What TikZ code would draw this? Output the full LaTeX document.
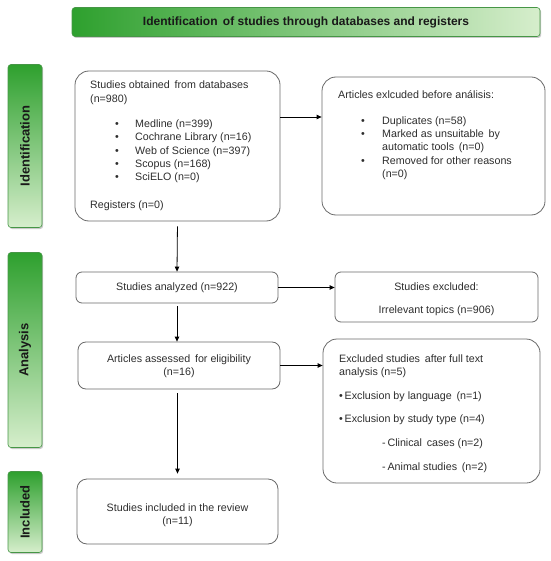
\documentclass[tikz,border=0pt]{standalone}
\usepackage{fontspec}
\setmainfont{Liberation Sans}
\usetikzlibrary{arrows.meta,shadows}
\definecolor{gdark}{RGB}{46,160,46}
\definecolor{glight}{RGB}{214,238,204}
\definecolor{gedge}{RGB}{70,150,70}
\definecolor{boxedge}{RGB}{105,105,105}
\definecolor{tgray}{RGB}{45,45,45}
\begin{document}
\begin{tikzpicture}[x=1pt,y=-1pt,
  box/.style={draw=boxedge, line width=0.8pt, rounded corners=#1, inner sep=0pt},
  box/.default=12pt,
  txt/.style={inner sep=0pt, text=tgray, font=\fontsize{10.7}{13.3}\selectfont},
  banner/.style={draw=gedge, line width=0.6pt, rounded corners=3pt, left color=gdark, right color=glight,
    drop shadow={shadow xshift=1.2pt, shadow yshift=-1.5pt, fill=black!35, opacity=0.6}, inner sep=0pt},
  sidebar/.style={draw=gedge, line width=0.6pt, rounded corners=3pt, top color=gdark, bottom color=glight,
    drop shadow={shadow xshift=1.2pt, shadow yshift=-1.5pt, fill=black!35, opacity=0.6}, inner sep=0pt},
  sidelabel/.style={rotate=90, text=black!90, font=\fontsize{13}{15}\selectfont\bfseries},
  arr/.style={line width=0.8pt, -{Triangle[length=5pt,width=4.5pt]}}
]
\useasboundingbox (0,0) rectangle (550,561);
% banners
\node[banner, minimum width=468pt, minimum height=29pt] (top) at (306,22) {};
\node[inner sep=0pt, text=black!90, font=\fontsize{12}{14}\selectfont\bfseries] (toptxt) at (top.center) {Identification\, of studies through databases and registers};
\node[sidebar, minimum width=34pt, minimum height=163pt] (s1) at (25,146) {};
\node[sidelabel] (s1t) at (s1.center) {Identification};
\node[sidebar, minimum width=34pt, minimum height=195pt] (s2) at (25,350) {};
\node[sidelabel] (s2t) at (s2.center) {Analysis};
\node[sidebar, minimum width=34pt, minimum height=81pt] (s3) at (25,512) {};
\node[sidelabel] (s3t) at (s3.center) {Included};
% boxes
\node[box=14pt, minimum width=205pt, minimum height=150pt] (b1) at (177.5,146) {};
\node[box=14pt, minimum width=223pt, minimum height=138pt] (b2) at (433.5,146) {};
\node[box=6pt, minimum width=202pt, minimum height=31pt] (b3) at (177,287.5) {};
\node[box=6pt, minimum width=203pt, minimum height=50pt] (b4) at (436.5,297) {};
\node[box=8pt, minimum width=202pt, minimum height=47pt] (b5) at (179,365.5) {};
\node[box=14pt, minimum width=217pt, minimum height=144pt] (b6) at (431.5,411) {};
\node[box=10pt, minimum width=201pt, minimum height=65pt] (b7) at (177.5,511.5) {};
% texts
\node[txt, anchor=north west, align=left] (t1) at (90,81) {Studies obtained\, from databases\\(n=980)\\[12pt]
\hspace*{25pt}\makebox[20pt][l]{•}Medline (n=399)\\
\hspace*{25pt}\makebox[20pt][l]{•}Cochrane Library (n=16)\\
\hspace*{25pt}\makebox[20pt][l]{•}Web of Science (n=397)\\
\hspace*{25pt}\makebox[20pt][l]{•}Scopus (n=168)\\
\hspace*{25pt}\makebox[20pt][l]{•}SciELO (n=0)\\[14pt]
Registers (n=0)};
\node[txt, anchor=north west, align=left] (t2) at (338,90) {Articles exlcuded before análisis:\\[13pt]
\hspace*{23pt}\makebox[21pt][l]{•}Duplicates (n=58)\\
\hspace*{23pt}\makebox[21pt][l]{•}Marked as unsuitable\, by\\
\hspace*{44pt}automatic tools\, (n=0)\\
\hspace*{23pt}\makebox[21pt][l]{•}Removed for other reasons\\
\hspace*{44pt}(n=0)};
\node[txt] (t3) at (b3.center) {Studies analyzed (n=922)};
\node[txt, align=center] (t4) at ([yshift=-2.5pt]b4.center) {Studies excluded:\\[10pt]Irrelevant topics (n=906)};
\node[txt, align=center] (t5) at ([yshift=-1pt]b5.center) {Articles assessed\, for eligibility\\(n=16)};
\node[txt, anchor=north west, align=left] (t6) at (339,354.5) {Excluded studies\, after full text\\analysis (n=5)\\[10pt]
•\,Exclusion by language\, (n=1)\\[10.5pt]
•\,Exclusion by study type (n=4)\\[10.5pt]
\hspace*{43pt}-\,Clinical\, cases (n=2)\\[10.5pt]
\hspace*{43pt}-\,Animal studies\, (n=2)};
\node[txt, align=center] (t7) at ([yshift=-4pt]b7.center) {Studies included in the review\\(n=11)};
% arrows
\draw[arr, shorten <=5pt] (b1.south) -- (b3.north);
\draw[arr] (b1.east |- 0,117) -- (b2.west |- 0,117);
\draw[arr, shorten <=3pt] (b3.south) -- (b3.south |- b5.north);
\draw[arr] (b3.east) -- (b4.west |- b3.east);
\draw[arr] (b5.east) -- (b6.west |- b5.east);
\draw[arr, shorten <=4pt, shorten >=5pt] (b5.south -| b7.north) -- (b7.north);
\end{tikzpicture}
\end{document}
